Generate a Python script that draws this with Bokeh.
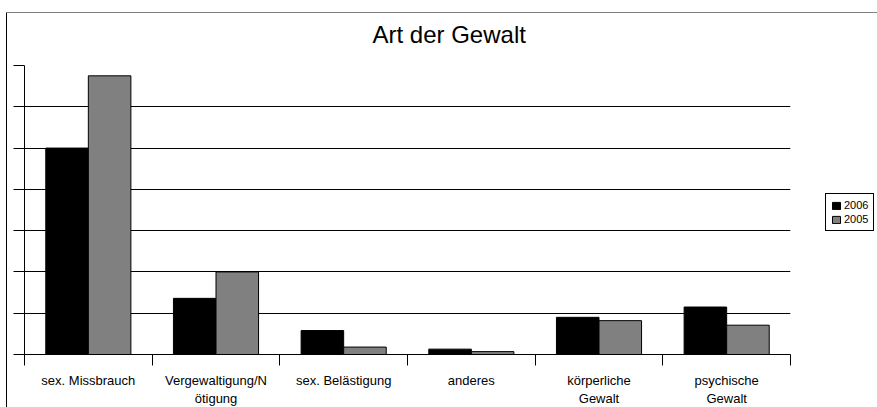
import numpy as np
from bokeh.plotting import figure
from bokeh.models import (Range1d, FixedTicker, Legend, LegendItem, ColumnDataSource)
from bokeh.embed import file_html
from bokeh.resources import INLINE

categories = ["sex. Missbrauch", "Vergewaltigung/N\nötigung", "sex. Belästigung",
              "anderes", "körperliche\nGewalt", "psychische\nGewalt"]
series_names = ["2006", "2005"]
values_2006 = [50.0, 13.6, 5.8, 1.3, 9.0, 11.5]
values_2005 = [67.5, 20.0, 1.8, 0.7, 8.2, 7.1]
y_ticks = [0, 10, 20, 30, 40, 50, 60, 70]

FONT = "Liberation Sans"
idx = np.arange(len(categories))

p = figure(frame_width=766, frame_height=289,
           min_border_left=24, min_border_right=84, min_border_top=65, min_border_bottom=50,
           x_range=Range1d(0, len(categories)), y_range=Range1d(0, 70),
           output_backend="svg", toolbar_location=None, tools="")
# outer chart-area frame (grey top edge, black left edge) painted behind the canvas
p.styles = {
    "margin-top": "0px", "margin-left": "0px",
    "background-color": "white",
    "background-image": "linear-gradient(#808080, #808080), linear-gradient(#000000, #000000)",
    "background-size": "calc(100% - 6px) 1px, 1px calc(100% - 12px)",
    "background-position": "6px 12px, 6px 12px",
    "background-repeat": "no-repeat",
}

p.background_fill_color = "white"
p.border_fill_color = None
p.outline_line_color = None

src6 = ColumnDataSource(dict(x=idx + 1/3, top=values_2006))
src5 = ColumnDataSource(dict(x=idx + 2/3, top=values_2005))
r6 = p.vbar(x="x", top="top", width=1/3, source=src6, fill_color="#000000", line_color="#000000", line_width=1)
r5 = p.vbar(x="x", top="top", width=1/3, source=src5, fill_color="#808080", line_color="#000000", line_width=1)

# x axis
xa = p.xaxis[0]
xa.ticker = FixedTicker(ticks=list(idx + 0.5), minor_ticks=list(range(len(categories) + 1)))
xa.major_label_overrides = {float(i + 0.5): c for i, c in enumerate(categories)}
xa.major_tick_out = 0
xa.major_tick_in = 0
xa.minor_tick_out = 11
xa.minor_tick_in = 0
xa.minor_tick_line_color = "#000000"
xa.axis_line_color = "#000000"
xa.major_label_standoff = 7
xa.major_label_text_font = FONT
xa.major_label_text_font_size = "13px"
xa.major_label_text_color = "#000000"

# y axis: only outward ticks, no labels
ya = p.yaxis[0]
ya.ticker = FixedTicker(ticks=[], minor_ticks=y_ticks)
ya.major_tick_out = 0
ya.major_tick_in = 0
ya.minor_tick_out = 11
ya.minor_tick_in = 0
ya.minor_tick_line_color = "#000000"
ya.axis_line_color = "#000000"
ya.major_label_standoff = 0

p.xgrid.grid_line_color = None
p.ygrid.ticker = FixedTicker(ticks=y_ticks)
p.ygrid.grid_line_color = "#000000"
p.ygrid.grid_line_width = 1

p.title.text = "Art der Gewalt"
p.title.align = "left"
p.title.offset = 348
p.title.standoff = 35
p.title.text_font = FONT
p.title.text_font_size = "24px"
p.title.text_font_style = "normal"
p.title.text_color = "#000000"

legend = Legend(items=[LegendItem(label=series_names[0], renderers=[r6]),
                       LegendItem(label=series_names[1], renderers=[r5])],
                location=(35, 123))
legend.label_text_font = FONT
legend.label_text_font_size = "11px"
legend.label_text_color = "#000000"
legend.glyph_width = 10
legend.glyph_height = 9
legend.label_height = 12
legend.label_standoff = 3
legend.spacing = 2
legend.padding = 5
legend.margin = 0
legend.border_line_color = "#000000"
legend.border_line_alpha = 1.0
legend.border_line_width = 1
legend.background_fill_color = "white"
p.add_layout(legend, "right")

open("out.html", "w").write(file_html(p, INLINE))
